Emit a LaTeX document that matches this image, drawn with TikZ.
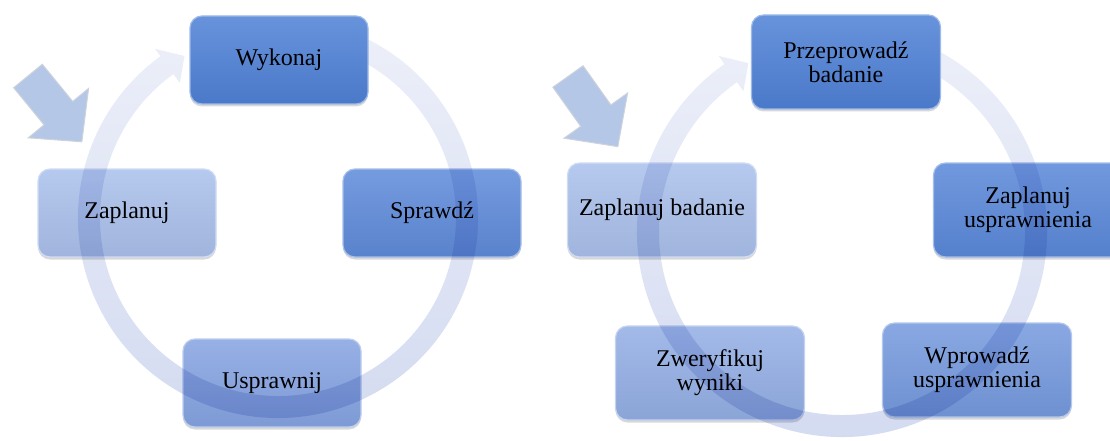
\documentclass[tikz,border=0pt]{standalone}
\usepackage{fontspec}
\setmainfont{Liberation Serif}
\usetikzlibrary{shadows}

% stage colours
\definecolor{cA}{RGB}{79,129,214}
\definecolor{cB}{RGB}{95,139,218}
\definecolor{cC}{RGB}{134,164,226}
\definecolor{cD}{RGB}{170,192,235}
\definecolor{cE}{RGB}{90,136,217}
\definecolor{cF}{RGB}{118,154,222}
\definecolor{cG}{RGB}{148,175,229}
\definecolor{ringtop}{RGB}{236,239,249}
\definecolor{ringbot}{RGB}{210,218,240}
\definecolor{bigarrow}{RGB}{180,199,231}
\definecolor{bigarrowedge}{RGB}{205,210,220}

\tikzset{
  stage/.style={rounded corners=12pt, minimum width=178pt, minimum height=88pt,
    inner sep=2pt, align=center, text=black,
    font=\fontsize{24}{24}\selectfont,
    draw=#1!55!white, line width=1.2pt,
    top color=#1!86!white, bottom color=#1!94!black,
    drop shadow={shadow xshift=0pt, shadow yshift=-2.5pt, opacity=0.3}},
  widestage/.style={stage=#1, minimum width=189pt, minimum height=94pt},
  ringfill/.style={top color=ringtop, bottom color=ringbot},
  startarrow/.style={fill=bigarrow, draw=bigarrowedge, line width=1pt, line join=miter},
}

\begin{document}
\begin{tikzpicture}[x=1pt, y=1pt]
\useasboundingbox (0,0) rectangle (1110,440);
\fill[white] (0,0) rectangle (1110,440);

% ---------- left cycle ----------
\coordinate (lc) at (278,222);
\coordinate (la) at (28,364);

\begin{scope}[shift={(la)}, rotate=-50.7]
  \path[startarrow] (0,18.5) -- (48,18.5) -- (48,39) -- (85,0) -- (48,-39)
    -- (48,-18.5) -- (0,-18.5) -- cycle;
\end{scope}

\node[stage=cD] (zap) at (127,227) {Zaplanuj};
\node[stage=cB] (spr) at (432,227) {Sprawdź};
\node[stage=cC] (usp) at (272,57) {Usprawnij};

\begin{scope}[shift={(lc)}, blend mode=multiply]
  \shade[ringfill] (66:200pt) arc[start angle=66, end angle=-234, radius=200pt]
    -- (-234:209pt) -- (-240:187pt) -- (-234:167pt) -- (-234:178pt)
    arc[start angle=-234, end angle=66, radius=178pt] -- cycle;
\end{scope}

\node[stage=cA] (wyk) at (279,380) {Wykonaj};

% ---------- right cycle ----------
\coordinate (rc) at (842,208);
\coordinate (ra) at (568,363.5);

\begin{scope}[shift={(ra)}, rotate=-54.6]
  \path[startarrow] (0,18.5) -- (48,18.5) -- (48,39) -- (86,0) -- (48,-39)
    -- (48,-18.5) -- (0,-18.5) -- cycle;
\end{scope}

\node[widestage=cD] (zb)  at (662,230) {Zaplanuj badanie};
\node[widestage=cE] (zu)  at (1028,230) {Zaplanuj\\usprawnienia};
\node[widestage=cF] (wpr) at (977,70) {Wprowadź\\usprawnienia};
\node[widestage=cG] (zwe) at (710,67) {Zweryfikuj\\wyniki};

\begin{scope}[shift={(rc)}, blend mode=multiply]
  \shade[ringfill] (67:205pt) arc[start angle=67, end angle=-235, radius=205pt]
    -- (-235:215pt) -- (-241:193pt) -- (-235:172pt) -- (-235:183pt)
    arc[start angle=-235, end angle=67, radius=183pt] -- cycle;
\end{scope}

\node[widestage=cA] (prz) at (846,378) {Przeprowadź\\badanie};
\end{tikzpicture}
\end{document}
